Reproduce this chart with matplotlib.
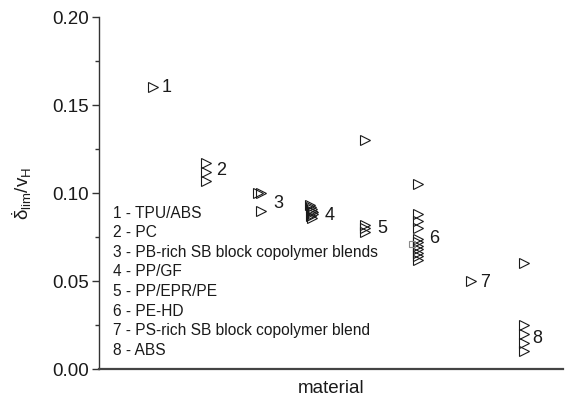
import numpy as np
import matplotlib
matplotlib.use("Agg")
import matplotlib.pyplot as plt

plt.rcParams['font.family'] = ['Liberation Sans', 'DejaVu Sans']
plt.rcParams['mathtext.fontset'] = 'custom'
plt.rcParams['mathtext.rm'] = 'Liberation Sans'
plt.rcParams['mathtext.it'] = 'Liberation Sans'

#***** data: material position and delta_lim/v_H values *****#
x_1 = [1.0]
y_1 = [0.160]
x_2 = [2.0, 2.0, 2.0]
y_2 = [0.117, 0.112, 0.107]
x_3 = [2.98, 3.03, 3.04]
y_3 = [0.100, 0.100, 0.090]
x_4 = [3.97, 3.99, 4.00, 4.01, 4.02, 4.03, 3.98, 4.00]
y_4 = [0.093, 0.092, 0.091, 0.090, 0.089, 0.088, 0.087, 0.086]
x_5 = [5.0, 5.0, 5.0, 5.0]
y_5 = [0.130, 0.082, 0.080, 0.078]
x_6 = [6.0] * 11
y_6 = [0.105, 0.088, 0.084, 0.080, 0.074, 0.072, 0.070, 0.068, 0.066, 0.064, 0.062]
x_7 = [7.0]
y_7 = [0.050]
x_8 = [8.0] * 5
y_8 = [0.060, 0.025, 0.020, 0.015, 0.010]

# grey square hidden in the PE-HD cluster
x_sq = [5.89]
y_sq = [0.071]

# group numbers next to the points
num_labels = ['1', '2', '3', '4', '5', '6', '7', '8']
num_x = [1.17, 2.19, 3.28, 4.25, 5.23, 6.21, 7.17, 8.17]
num_y = [0.1597, 0.113, 0.094, 0.0875, 0.080, 0.0744, 0.049, 0.0176]

materials = ['1 - TPU/ABS', '2 - PC', '3 - PB-rich SB block copolymer blends',
             '4 - PP/GF', '5 - PP/EPR/PE', '6 - PE-HD',
             '7 - PS-rich SB block copolymer blend', '8 - ABS']

#***** plotting *****#
fig = plt.figure(figsize=(5.72, 4.01), dpi=100)
ax = fig.add_axes([0.1731, 0.0798, 0.8109, 0.8778])

all_x = [x_1, x_2, x_3, x_4, x_5, x_6, x_7, x_8]
all_y = [y_1, y_2, y_3, y_4, y_5, y_6, y_7, y_8]
for xs, ys in zip(all_x, all_y):
    ax.plot(xs, ys, linestyle='none', marker='>', markersize=7,
            markerfacecolor='none', markeredgecolor='#1a1a1a', markeredgewidth=0.8)

ax.plot(x_sq, y_sq, linestyle='none', marker='s', markersize=5,
        markerfacecolor='none', markeredgecolor='#8a8a8a', markeredgewidth=0.8)

for lab, lx, ly in zip(num_labels, num_x, num_y):
    ax.text(lx, ly, lab, ha='left', va='center', fontsize=13, color='#1a1a1a')

# the material key, one line each
y0 = 0.0886
dy = 0.01114
for i, txt in enumerate(materials):
    ax.text(0.245, y0 - i * dy, txt, ha='left', va='center', fontsize=11.2, color='#1a1a1a')

ax.set_xlim(-0.02, 8.74)
ax.set_ylim(0.0, 0.20)
ax.set_yticks([0.0, 0.05, 0.10, 0.15, 0.20])
ax.set_yticklabels(['0.00', '0.05', '0.10', '0.15', '0.20'])
ax.set_yticks(np.arange(0.025, 0.2, 0.05), minor=True)
ax.set_xticks([])

ax.spines['top'].set_visible(False)
ax.spines['right'].set_visible(False)
ax.spines['left'].set_color('#333333')
ax.spines['bottom'].set_color('#444444')
ax.spines['left'].set_linewidth(1.0)
ax.spines['bottom'].set_linewidth(1.6)
ax.tick_params(axis='y', which='major', direction='out', length=5, width=1.0,
               labelsize=13.5, colors='#333333', labelcolor='#1a1a1a', pad=2)
ax.tick_params(axis='y', which='minor', direction='out', length=3, width=1.0, colors='#333333')

ax.set_xlabel('material', fontsize=13.5, color='#1a1a1a', labelpad=8)
ax.set_ylabel(r'$\dot{\delta}_{\mathrm{lim}}/\mathrm{v}_{\mathrm{H}}$', fontsize=13.5, color='#1a1a1a', labelpad=13)

fig.savefig('out.png', dpi=100)
